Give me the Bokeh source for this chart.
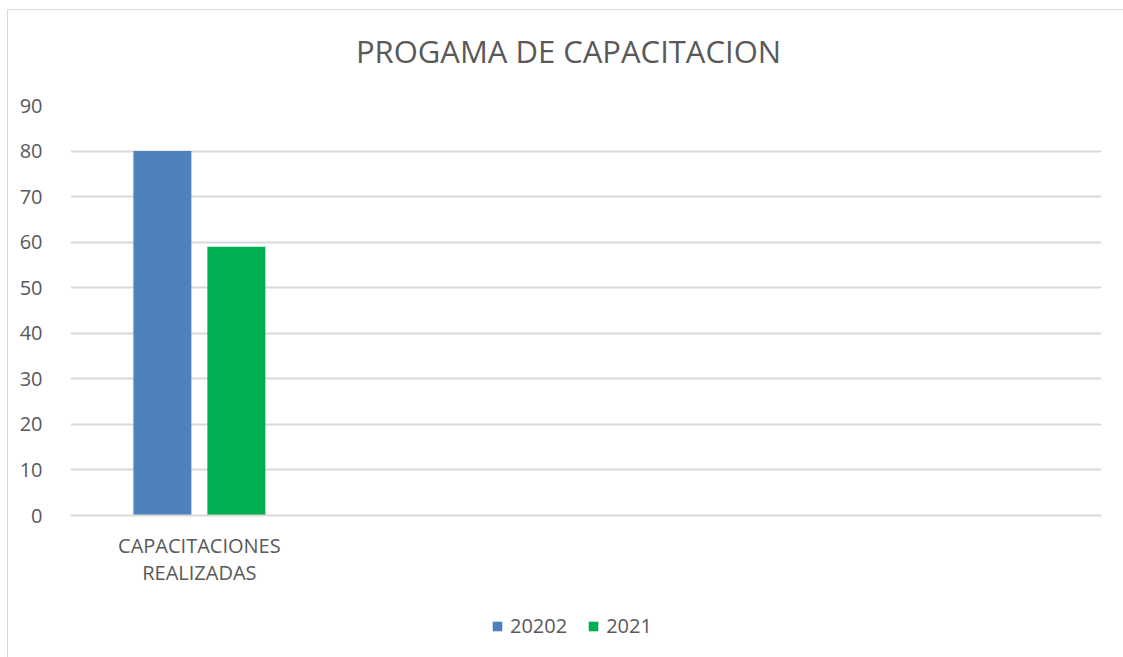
from bokeh.plotting import figure
from bokeh.layouts import column
from bokeh.models import (FactorRange, Range1d, SingleIntervalTicker, Legend, LegendItem,
                          ColumnDataSource, Label)
from bokeh.transform import dodge
from bokeh.embed import file_html
from bokeh.resources import INLINE

# ---- data ----
title = "PROGAMA DE CAPACITACION"
categories = ["CAPACITACIONES\nREALIZADAS"]
axis_slots = ["CAPACITACIONES\nREALIZADAS", " ", "  ", "   "]  # empty category slots on the axis
series_names = ["20202", "2021"]
values_20202 = [80]
values_2021 = [59]
colors = ["#4F81BD", "#00B050"]

FONT = "Open Sans"
TXT = "#595959"
GRID = "#D9D9D9"

src = ColumnDataSource(dict(cat=categories, s1=values_20202, s2=values_2021))

# ---- title strip ----
t = figure(width=1115, height=80, x_range=Range1d(0, 1), y_range=Range1d(0, 1),
           output_backend="svg", toolbar_location=None,
           min_border_left=0, min_border_right=0, min_border_top=0, min_border_bottom=0)
t.axis.visible = False
t.grid.grid_line_color = None
t.outline_line_color = None
t.add_layout(Label(x=498, y=40, x_units="screen", y_units="screen", text=title,
                   text_align="center", text_baseline="alphabetic",
                   text_font=FONT, text_font_size="31px", text_color=TXT))

# ---- main chart ----
p = figure(width=1115, height=510, x_range=FactorRange(*axis_slots, range_padding=0),
           y_range=Range1d(0, 90), output_backend="svg", toolbar_location=None,
           min_border_left=62, min_border_right=22, min_border_top=15, min_border_bottom=85)

p.vbar(x=dodge("cat", -0.1435, range=p.x_range), top="s1", width=0.225, source=src,
       fill_color=colors[0], line_color=None)
p.vbar(x=dodge("cat", 0.1435, range=p.x_range), top="s2", width=0.225, source=src,
       fill_color=colors[1], line_color=None)

p.outline_line_color = None
p.background_fill_color = "white"
p.border_fill_color = "white"

p.yaxis.ticker = SingleIntervalTicker(interval=10)
p.yaxis.axis_line_color = None
p.yaxis.major_tick_line_color = None
p.yaxis.minor_tick_line_color = None
p.yaxis.major_label_text_font = FONT
p.yaxis.major_label_text_font_size = "20px"
p.yaxis.major_label_text_color = TXT
p.yaxis.major_label_standoff = 22

p.xaxis.axis_line_color = GRID
p.xaxis.axis_line_width = 2
p.xaxis.major_tick_line_color = None
p.xaxis.minor_tick_line_color = None
p.xaxis.major_label_text_font = FONT
p.xaxis.major_label_text_font_size = "20px"
p.xaxis.major_label_text_color = TXT
p.xaxis.major_label_text_line_height = 1.0
p.xaxis.major_label_standoff = 10

p.xgrid.grid_line_color = None
p.ygrid.grid_line_color = GRID
p.ygrid.grid_line_width = 2
p.ygrid.ticker = SingleIntervalTicker(interval=10)

# ---- legend strip (same series, bars kept out of view; only the legend shows) ----
q = figure(width=1115, height=57, x_range=FactorRange(*axis_slots, range_padding=0),
           y_range=Range1d(1000, 1001), output_backend="svg", toolbar_location=None,
           min_border_left=0, min_border_right=0, min_border_top=0, min_border_bottom=0)
q.axis.visible = False
q.grid.grid_line_color = None
q.outline_line_color = None
q1 = q.vbar(x="cat", top="s1", width=0.225, source=src, fill_color=colors[0], line_color=None)
q2 = q.vbar(x="cat", top="s2", width=0.225, source=src, fill_color=colors[1], line_color=None)

legend = Legend(items=[LegendItem(label=series_names[0], renderers=[q1]),
                       LegendItem(label=series_names[1], renderers=[q2])],
                orientation="horizontal", location=(421, 18),
                glyph_width=12, glyph_height=12, label_standoff=7, spacing=20,
                padding=0, margin=0, border_line_color=None, background_fill_alpha=0,
                label_text_font=FONT, label_text_font_size="20px", label_text_color=TXT)
q.add_layout(legend, "center")

layout = column(t, p, q, spacing=0)
layout.styles = {"margin-left": "7px", "margin-top": "9px",
                 "border-left": "1px solid #D9D9D9", "border-top": "1px solid #D9D9D9"}

open("out.html", "w").write(file_html(layout, INLINE))
